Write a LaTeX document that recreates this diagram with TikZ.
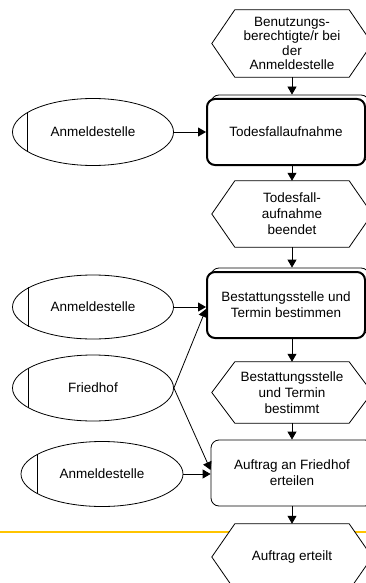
\documentclass[tikz,border=0pt]{standalone}
\usepackage{fontspec}
\setmainfont{Liberation Sans}
\usetikzlibrary{arrows.meta,backgrounds,calc,shapes.geometric}

\definecolor{rulecolor}{RGB}{255,196,0}

\begin{document}
\begin{tikzpicture}[x=1pt,y=-1pt,
  every node/.style={font=\fontsize{13.5}{16}\selectfont, align=center, inner sep=0pt},
  event/.style={minimum width=160pt, minimum height=#1},
  func/.style={draw, fill=white, rounded corners=8pt, minimum width=158pt, minimum height=66pt},
  boldframe/.style={line width=2pt},
  backframe/.style={draw, line width=0.8pt, rounded corners=8pt, minimum width=158pt, minimum height=66pt},
  unit/.style={draw, ellipse, line width=0.8pt, minimum width=161pt, minimum height=#1},
  flow/.style={line width=0.8pt, -{Triangle[length=8pt,width=9pt]}},
]
\useasboundingbox (0,0) rectangle (366,583);

% events (hexagons are drawn below, on the background layer)
\node[event=67pt, font=\fontsize{13.5}{14.3}\selectfont] (h1) at (292,43.5)
  {Benutzungs-\\berechtigte/r bei\\der\\Anmeldestelle};
\node[event=66pt] (h2) at (292,214) {Todesfall-\\aufnahme\\beendet};
\node[event=61pt] (h3) at (292,392.5) {Bestattungsstelle\\und Termin\\bestimmt};
\node[event=66pt] (h4) at (292,557) {Auftrag erteilt};

% functions
\node[backframe] (b1s) at (290,128) {};
\node[func, boldframe] (b1) at (286,132) {Todesfallaufnahme};
\node[backframe] (b2s) at (290,301) {};
\node[func, boldframe] (b2) at (286,305) {Bestattungsstelle und\\Termin bestimmen};
\node[func, line width=0.8pt, minimum width=162pt] (b3) at (292,473)
  {Auftrag an Friedhof\\erteilen};

% organisational units
\node[unit=67pt] (e1) at (93,132) {Anmeldestelle};
\node[unit=64pt] (e2) at (93,307) {Anmeldestelle};
\node[unit=66pt] (e3) at (93,388) {Friedhof};
\node[unit=65pt, minimum width=162pt] (e4) at (102,474) {Anmeldestelle};
\foreach \e in {e1,e2,e3,e4}
  \draw[line width=0.8pt] (\e.163) -- (\e.197);

\begin{scope}[on background layer]
  \coordinate (ruleL) at (0,532);
  \coordinate (ruleR) at (366,532);
  \draw[rulecolor, line width=1.5pt] (ruleL) -- (ruleR);
  \foreach \h in {h1,h2,h3,h4}
    \draw[line width=0.8pt, fill=white] (\h.west) -- ([xshift=23pt]\h.north west)
      -- ([xshift=-23pt]\h.north east) -- (\h.east)
      -- ([xshift=-23pt]\h.south east) -- ([xshift=23pt]\h.south west) -- cycle;
\end{scope}

% control flow
\draw[flow] (h1.south) -- (h1.south |- b1s.north);
\draw[flow] (b1.south -| h2.north) -- (h2.north);
\draw[flow] (h2.south) -- (h2.south |- b2s.north);
\draw[flow] (b2.south -| h3.north) -- (h3.north);
\draw[flow] (h3.south) -- (b3.north);
\draw[flow] (b3.south) -- (h4.north);

% assignments
\draw[flow] (e1.east) -- (e1.east -| b1.west);
\draw[flow] (e2.east) -- (e2.east -| b2.west);
\draw[flow] (e3.east) -- ([yshift=-4pt]b2.west);
\draw[flow] (e3.east) -- ([yshift=3pt]b3.west);
\draw[flow] (e4.east) -- (e4.east -| b3.west);
\end{tikzpicture}
\end{document}
